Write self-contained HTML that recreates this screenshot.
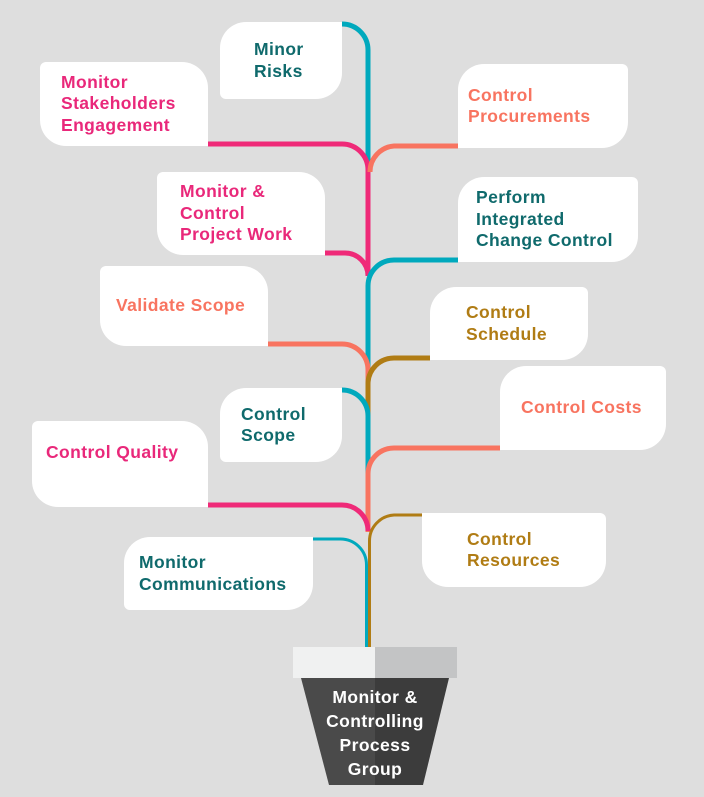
<!DOCTYPE html>
<html><head><meta charset="utf-8"><style>
body{margin:0;width:704px;height:797px;background:#dedede;position:relative;overflow:hidden;font-family:"Liberation Sans",sans-serif;}
.c{position:absolute;background:#fff;display:flex;align-items:center;box-sizing:border-box;padding-left:21px;font-weight:bold;font-size:17.5px;line-height:21.5px;letter-spacing:0.4px;}
.t{color:#0f6a6c}.p{color:#e9287a}.s{color:#f87460}.b{color:#b07c14}
.br{border-radius:6px 26px 0 26px}
.bl{border-radius:26px 6px 26px 0}
.tr{border-radius:26px 0 26px 6px}
.tl{border-radius:0 6px 26px 26px}
svg{position:absolute;left:0;top:0}
</style></head><body>
<svg width="704" height="797">
<g fill="none" stroke-width="5">
<path d="M342 24 A26 26 0 0 1 368 50 V172" stroke="#00a9bd"/>
<path d="M208 144 H342 A26 26 0 0 1 368 170 V272" stroke="#ef2a78"/>
<path d="M458 146 H394 A26 26 0 0 0 370 172" stroke="#f87460"/>
<path d="M325 253 H345 A23 23 0 0 1 368 276" stroke="#ef2a78"/>
<path d="M458 260 H394 A26 26 0 0 0 368 286 V372" stroke="#00a9bd"/>
<path d="M268 344 H342 A26 26 0 0 1 368 370 V384" stroke="#f87460"/>
<path d="M430 358 H394 A26 26 0 0 0 368 384 V418" stroke="#b07c14"/>
<path d="M342 390 A26 26 0 0 1 368 416 V476" stroke="#00a9bd"/>
<path d="M500 448 H394 A26 26 0 0 0 368 474 V532" stroke="#f87460"/>
<path d="M208 505 H342 A26 26 0 0 1 368 531" stroke="#ef2a78"/>
<path d="M422 515 H394 A26 26 0 0 0 369.5 541 V648" stroke="#b07c14" stroke-width="3"/>
<path d="M313 539 H340 A26 26 0 0 1 366.5 565 V648" stroke="#00a9bd" stroke-width="3"/>
</g>
<rect x="293" y="647" width="82" height="31" fill="#f0f1f1"/>
<rect x="375" y="647" width="82" height="31" fill="#c3c4c5"/>
<polygon points="301,678 375,678 375,785 329,785" fill="#4a4a4a"/>
<polygon points="375,678 449,678 423,785 375,785" fill="#3c3c3c"/>
<g fill="#fff" font-family="Liberation Sans,sans-serif" font-weight="bold" font-size="17.5" text-anchor="middle" letter-spacing="0.4">
<text x="375" y="703">Monitor &amp;</text>
<text x="375" y="727">Controlling</text>
<text x="375" y="751">Process</text>
<text x="375" y="775">Group</text>
</g>
</svg>
<div class="c t tr" style="left:220px;top:22px;width:122px;height:77px;padding-left:34px">Minor<br>Risks</div>
<div class="c p br" style="left:40px;top:62px;width:168px;height:84px">Monitor<br>Stakeholders<br>Engagement</div>
<div class="c s bl" style="left:458px;top:64px;width:170px;height:84px;padding-left:10px">Control<br>Procurements</div>
<div class="c p br" style="left:157px;top:172px;width:168px;height:83px;padding-left:23px">Monitor &amp;<br>Control<br>Project Work</div>
<div class="c t bl" style="left:458px;top:177px;width:180px;height:85px;padding-left:18px">Perform<br>Integrated<br>Change Control</div>
<div class="c s br" style="left:100px;top:266px;width:168px;height:80px;padding-left:16px;align-items:flex-start;padding-top:29px">Validate Scope</div>
<div class="c b bl" style="left:430px;top:287px;width:158px;height:73px;padding-left:36px">Control<br>Schedule</div>
<div class="c t tr" style="left:220px;top:388px;width:122px;height:74px">Control<br>Scope</div>
<div class="c s bl" style="left:500px;top:366px;width:166px;height:84px;align-items:flex-start;padding-top:31px">Control Costs</div>
<div class="c p br" style="left:32px;top:421px;width:176px;height:86px;padding-left:14px;align-items:flex-start;padding-top:21px">Control Quality</div>
<div class="c b tl" style="left:422px;top:513px;width:184px;height:74px;padding-left:45px">Control<br>Resources</div>
<div class="c t tr" style="left:124px;top:537px;width:189px;height:73px;padding-left:15px">Monitor<br>Communications</div>
</body></html>
